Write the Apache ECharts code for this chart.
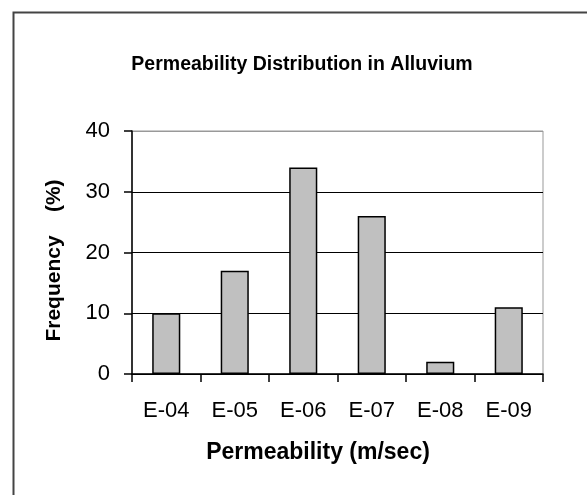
<!DOCTYPE html>
<html>
<head>
<meta charset="utf-8">
<script src="https://cdn.jsdelivr.net/npm/echarts@6/dist/echarts.min.js"></script>
<style>
  html,body{margin:0;padding:0;background:#fff;}
  #chart{width:587px;height:495px;}
</style>
</head>
<body>
<div id="chart"></div>
<script>
let categories = ['E-04','E-05','E-06','E-07','E-08','E-09'];
let frequency = [10, 17, 34, 26, 2, 11];
let yTicks = [0, 10, 20, 30, 40];

let chart = echarts.init(document.getElementById('chart'));

chart.setOption({
  animation:false,
  backgroundColor:'#fff',
  textStyle:{fontFamily:'"Liberation Sans", Arial, sans-serif'},
  graphic:[{
    type:'rect',
    left:11, top:10,
    shape:{width:600, height:520},
    style:{fill:'none', stroke:'#444', lineWidth:2},
    silent:true
  }],
  title:{
    text:'Permeability Distribution in Alluvium',
    left:297, textAlign:'center',
    top:50,
    textStyle:{fontSize:19.5, fontWeight:'bold', color:'#000'}
  },
  grid:{
    left:132, right:44, top:131, bottom:121,
    show:true, borderColor:'#999', borderWidth:1, backgroundColor:'transparent'
  },
  xAxis:{
    type:'category',
    data:categories,
    name:'Permeability (m/sec)',
    nameLocation:'middle',
    nameGap:67,
    nameTextStyle:{fontSize:23, fontWeight:'bold', color:'#000', padding:[0,39,0,0]},
    axisLine:{lineStyle:{color:'#000', width:1.5}},
    axisTick:{show:true, length:8, lineStyle:{color:'#000', width:1.5}},
    axisLabel:{fontSize:22, color:'#000', margin:26}
  },
  yAxis:{
    type:'value',
    min:yTicks[0], max:yTicks[yTicks.length-1], interval:10,
    name:'Frequency    (%)',
    nameLocation:'middle',
    nameGap:67,
    nameTextStyle:{fontSize:21, fontWeight:'bold', color:'#000', padding:[0,16,0,0]},
    axisLine:{show:true, lineStyle:{color:'#000', width:1.5}},
    axisTick:{show:true, length:8, lineStyle:{color:'#000', width:1.5}},
    axisLabel:{fontSize:22, color:'#000', margin:22},
    splitLine:{show:true, lineStyle:{color:['#000','#000','#000','#000','#999'], width:1}}
  },
  series:[{
    type:'bar',
    data:frequency,
    barWidth:'41%',
    itemStyle:{color:'#c0c0c0', borderColor:'#000', borderWidth:1.5}
  }]
});
</script>
</body>
</html>
